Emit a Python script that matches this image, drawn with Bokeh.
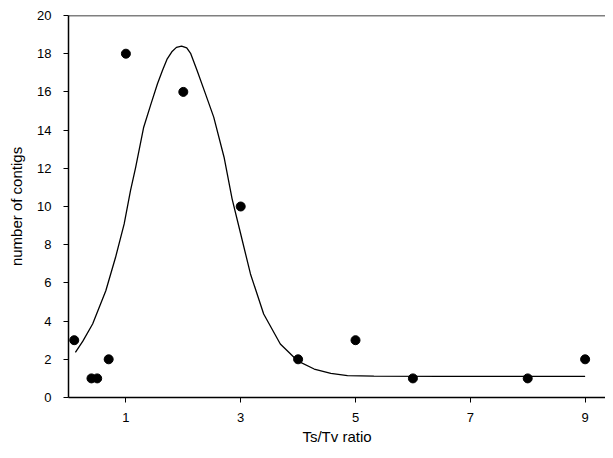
from bokeh.plotting import figure
from bokeh.models import Range1d, FixedTicker, Span
from bokeh.embed import file_html
from bokeh.resources import INLINE

# data points
ratio = [0.1, 0.4, 0.5, 0.7, 1, 2, 3, 4, 5, 6, 8, 9]
contigs = [3, 1, 1, 2, 18, 16, 10, 2, 3, 1, 1, 2]

# fitted curve
curve_x = [0.12, 0.25, 0.42, 0.65, 0.82, 0.97, 1.08, 1.17, 1.31, 1.44, 1.55, 1.64, 1.72, 1.80, 1.88, 1.97,
           2.06, 2.13, 2.24, 2.38, 2.53, 2.71, 2.85, 3.0, 3.17, 3.40, 3.69, 3.99, 4.28, 4.57, 4.86,
           5.32, 6.5, 9.0]
curve_y = [2.36, 2.95, 3.85, 5.59, 7.34, 9.09, 10.83, 12.05, 14.15, 15.4, 16.43, 17.15, 17.73, 18.1, 18.33, 18.40,
           18.3, 18.0, 17.12, 15.95, 14.68, 12.58, 10.4, 8.56, 6.47, 4.37, 2.80, 1.92, 1.49, 1.26, 1.15,
           1.12, 1.11, 1.11]

x_ticks = [1, 3, 5, 7, 9]
y_ticks = [0, 2, 4, 6, 8, 10, 12, 14, 16, 18, 20]

FONT = "Liberation Sans"

p = figure(width=605, height=450, output_backend="svg", toolbar_location=None,
           x_range=Range1d(0, 9.355), y_range=Range1d(0, 20),
           min_border_left=68, min_border_right=0, min_border_top=15, min_border_bottom=53)
p.outline_line_color = None
p.grid.visible = False
p.background_fill_color = "white"

p.line(curve_x, curve_y, line_color="black", line_width=1.3)
p.scatter(ratio, contigs, size=9, fill_color="black", line_color="black")

p.add_layout(Span(location=20, dimension="width", line_color="black", line_width=1.5))

p.xaxis.ticker = FixedTicker(ticks=x_ticks)
p.yaxis.ticker = FixedTicker(ticks=y_ticks)
for ax in (p.xaxis[0], p.yaxis[0]):
    ax.axis_line_color = "black"
    ax.axis_line_width = 1.5
    ax.major_tick_line_color = "black"
    ax.major_tick_in = 0
    ax.major_tick_out = 5
    ax.minor_tick_line_color = None
    ax.major_label_text_font = FONT
    ax.major_label_text_font_size = "13px"
    ax.major_label_text_color = "black"
    ax.axis_label_text_font = FONT
    ax.axis_label_text_font_size = "15px"
    ax.axis_label_text_font_style = "normal"
    ax.axis_label_text_color = "black"

p.xaxis.axis_label = "Ts/Tv ratio"
p.yaxis.axis_label = "number of contigs"
p.xaxis.major_label_standoff = 10
p.xaxis.axis_label_standoff = 3
p.yaxis.major_label_standoff = 12
p.yaxis.axis_label_standoff = 9

open("out.html", "w").write(file_html(p, INLINE))
